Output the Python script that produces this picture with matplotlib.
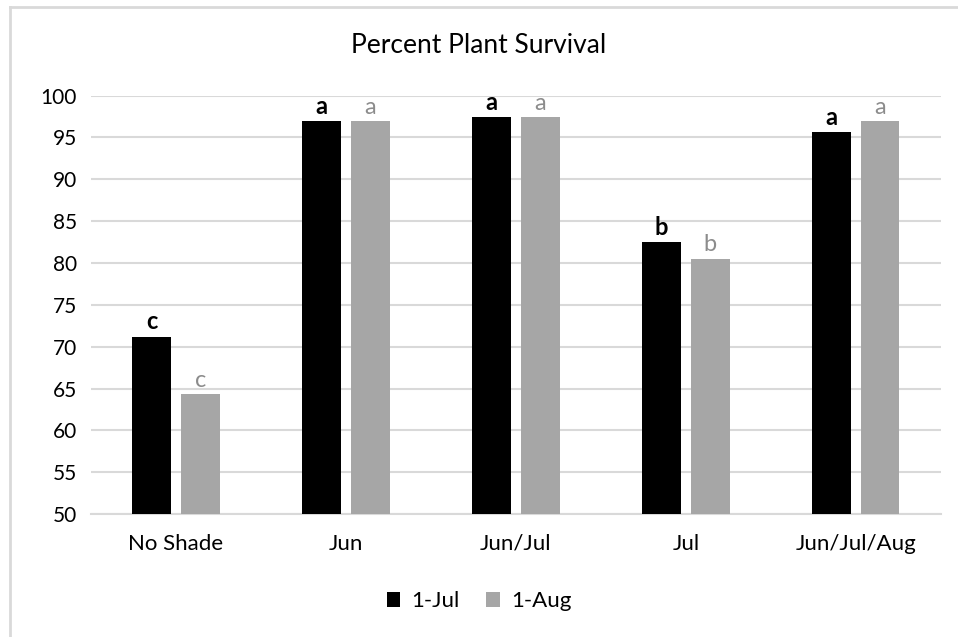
import numpy as np
import matplotlib.pyplot as plt
from matplotlib.lines import Line2D

plt.rcParams['font.family'] = ['Lato', 'DejaVu Sans']

treatments = ['No Shade', 'Jun', 'Jun/Jul', 'Jul', 'Jun/Jul/Aug']
jul_1 = [71.2, 96.9, 97.4, 82.5, 95.6]
aug_1 = [64.3, 96.9, 97.4, 80.5, 96.9]
letters_jul = ['c', 'a', 'a', 'b', 'a']
letters_aug = ['c', 'a', 'a', 'b', 'a']
yticks = list(range(50, 101, 5))

fig = plt.figure(figsize=(9.58, 6.37), dpi=100)
ax = fig.add_axes([0.095, 0.193, 0.887, 0.657])

x = np.arange(len(treatments))
w = 0.228
off = 0.143
b1 = ax.bar(x - off, jul_1, w, color='black', label='1-Jul', zorder=3)
b2 = ax.bar(x + off, aug_1, w, color='#a6a6a6', label='1-Aug', zorder=3)

for xi, v, t in zip(x, jul_1, letters_jul):
    ax.text(xi - off, v + 0.4, t, ha='center', va='bottom', fontsize=17,
            color='black', fontweight='bold')
for xi, v, t in zip(x, aug_1, letters_aug):
    ax.text(xi + off, v + 0.4, t, ha='center', va='bottom', fontsize=17,
            color='#8c8c8c')

ax.set_ylim(50, 100)
ax.set_xlim(-0.5, len(treatments) - 0.5)
ax.set_yticks(yticks)
ax.set_xticks(x)
ax.set_xticklabels(treatments)
ax.tick_params(axis='both', length=0, labelsize=15, colors='black')
ax.tick_params(axis='x', labelsize=16, pad=14)
ax.tick_params(axis='y', pad=10)
ax.yaxis.grid(True, color='#d9d9d9', linewidth=1.5, zorder=0)
for s in ['top', 'right', 'left']:
    ax.spines[s].set_visible(False)
ax.spines['bottom'].set_color('#d9d9d9')
ax.spines['bottom'].set_linewidth(1.5)

fig.text(0.5, 0.928, 'Percent Plant Survival', ha='center', va='center', fontsize=19)
fig.legend(handles=[b1, b2], loc='center', bbox_to_anchor=(0.5, 0.056), ncol=2,
           frameon=False, fontsize=16, handlelength=0.6, handleheight=0.6,
           handletextpad=0.5, columnspacing=1.2)

# chart area border (top and left edges only visible)
fig.lines.append(Line2D([0.0105, 1.0], [0.989, 0.989], transform=fig.transFigure,
                        color='#d9d9d9', linewidth=2))
fig.lines.append(Line2D([0.0105, 0.0105], [0.0, 0.989], transform=fig.transFigure,
                        color='#d9d9d9', linewidth=2))

fig.savefig('out.png', dpi=100)
